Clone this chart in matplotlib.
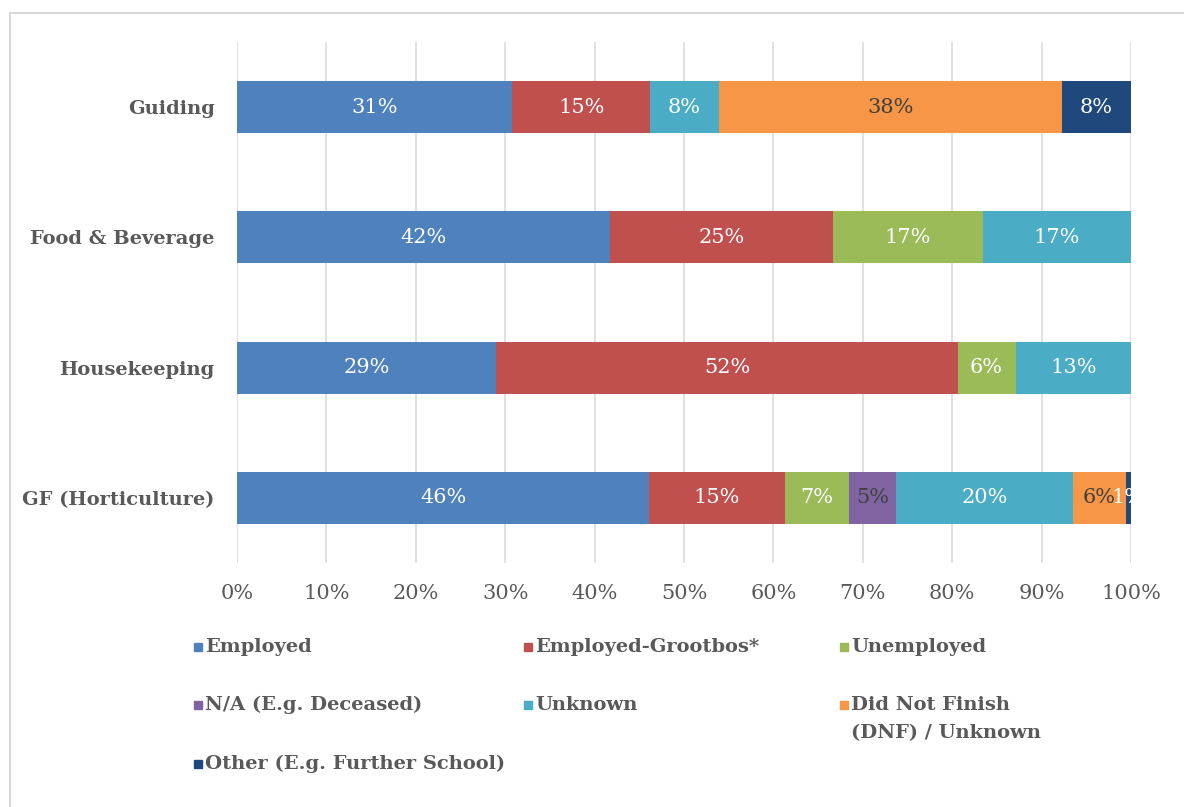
import numpy as np
import matplotlib.pyplot as plt
from matplotlib.patches import Rectangle

plt.rcParams['font.family'] = ['DejaVu Serif']

categories = ['GF (Horticulture)', 'Housekeeping', 'Food & Beverage', 'Guiding']
series = ['Employed', 'Employed-Grootbos*', 'Unemployed', 'N/A (E.g. Deceased)',
          'Unknown', 'Did Not Finish\n(DNF) / Unknown', 'Other (E.g. Further School)']
colors = ['#4F81BD', '#C0504D', '#9BBB59', '#8064A2', '#4BACC6', '#F79646', '#1F497D']
label_colors = ['white', 'white', 'white', '#404040', 'white', '#404040', 'white']

# percentages per category, same order as categories
employed = [46.1, 29.0, 41.7, 30.8]
grootbos = [15.2, 51.6, 25.0, 15.4]
unemployed = [7.2, 6.5, 16.7, 0.0]
deceased = [5.2, 0.0, 0.0, 0.0]
unknown = [19.8, 12.9, 16.6, 7.7]
dnf = [5.9, 0.0, 0.0, 38.4]
other = [0.6, 0.0, 0.0, 7.7]
values = [employed, grootbos, unemployed, deceased, unknown, dnf, other]

fig = plt.figure(figsize=(11.84, 8.07), dpi=100)
ax = fig.add_axes([0.2002, 0.3024, 0.755, 0.6456])

y = np.arange(len(categories))
left = np.zeros(len(categories))
for vals, col, tcol in zip(values, colors, label_colors):
    vals = np.array(vals)
    bars = ax.barh(y, vals, left=left, height=0.4, color=col, zorder=2)
    for b, v in zip(bars, vals):
        if v > 0:
            ax.text(b.get_x() + b.get_width() / 2, b.get_y() + b.get_height() / 2,
                    f'{v:.0f}%', ha='center', va='center', color=tcol,
                    fontsize=15, zorder=3, clip_on=True)
    left += vals

ax.set_xlim(0, 100)
ax.set_ylim(-0.5, 3.5)
ax.set_xticks(np.arange(0, 101, 10))
ax.set_xticklabels([f'{t}%' for t in range(0, 101, 10)], fontsize=15, color='#595959')
ax.set_yticks(y)
ax.set_yticklabels(categories, fontsize=14, fontweight='bold', color='#595959')
ax.tick_params(axis='both', length=0)
ax.tick_params(axis='x', pad=15)
ax.tick_params(axis='y', pad=16)
ax.grid(axis='x', color='#dcdcdc', linewidth=1.2, zorder=0)
for s in ax.spines.values():
    s.set_visible(False)

# legend laid out in three columns, rows read left to right
W, H = 1184, 807
legend_pos = [(194, 647), (524, 647), (840, 647),
              (194, 705), (524, 705), (840, 705),
              (194, 764)]
for name, col, (px, py) in zip(series, colors, legend_pos):
    fig.patches.append(Rectangle((px / W, 1 - (py + 4) / H), 8 / W, 8 / H,
                                 transform=fig.transFigure, color=col))
    for k, line in enumerate(name.split('\n')):
        fig.text((px + 11) / W, 1 - (py + 28 * k) / H, line, fontsize=14,
                 fontweight='bold', color='#595959', va='center')

fig.patches.append(Rectangle((10 / W, -0.1), 1.2, 1 - 13 / H + 0.1,
                             transform=fig.transFigure, fill=False,
                             edgecolor='#d9d9d9', linewidth=1.5))

fig.savefig('out.png', dpi=100)
